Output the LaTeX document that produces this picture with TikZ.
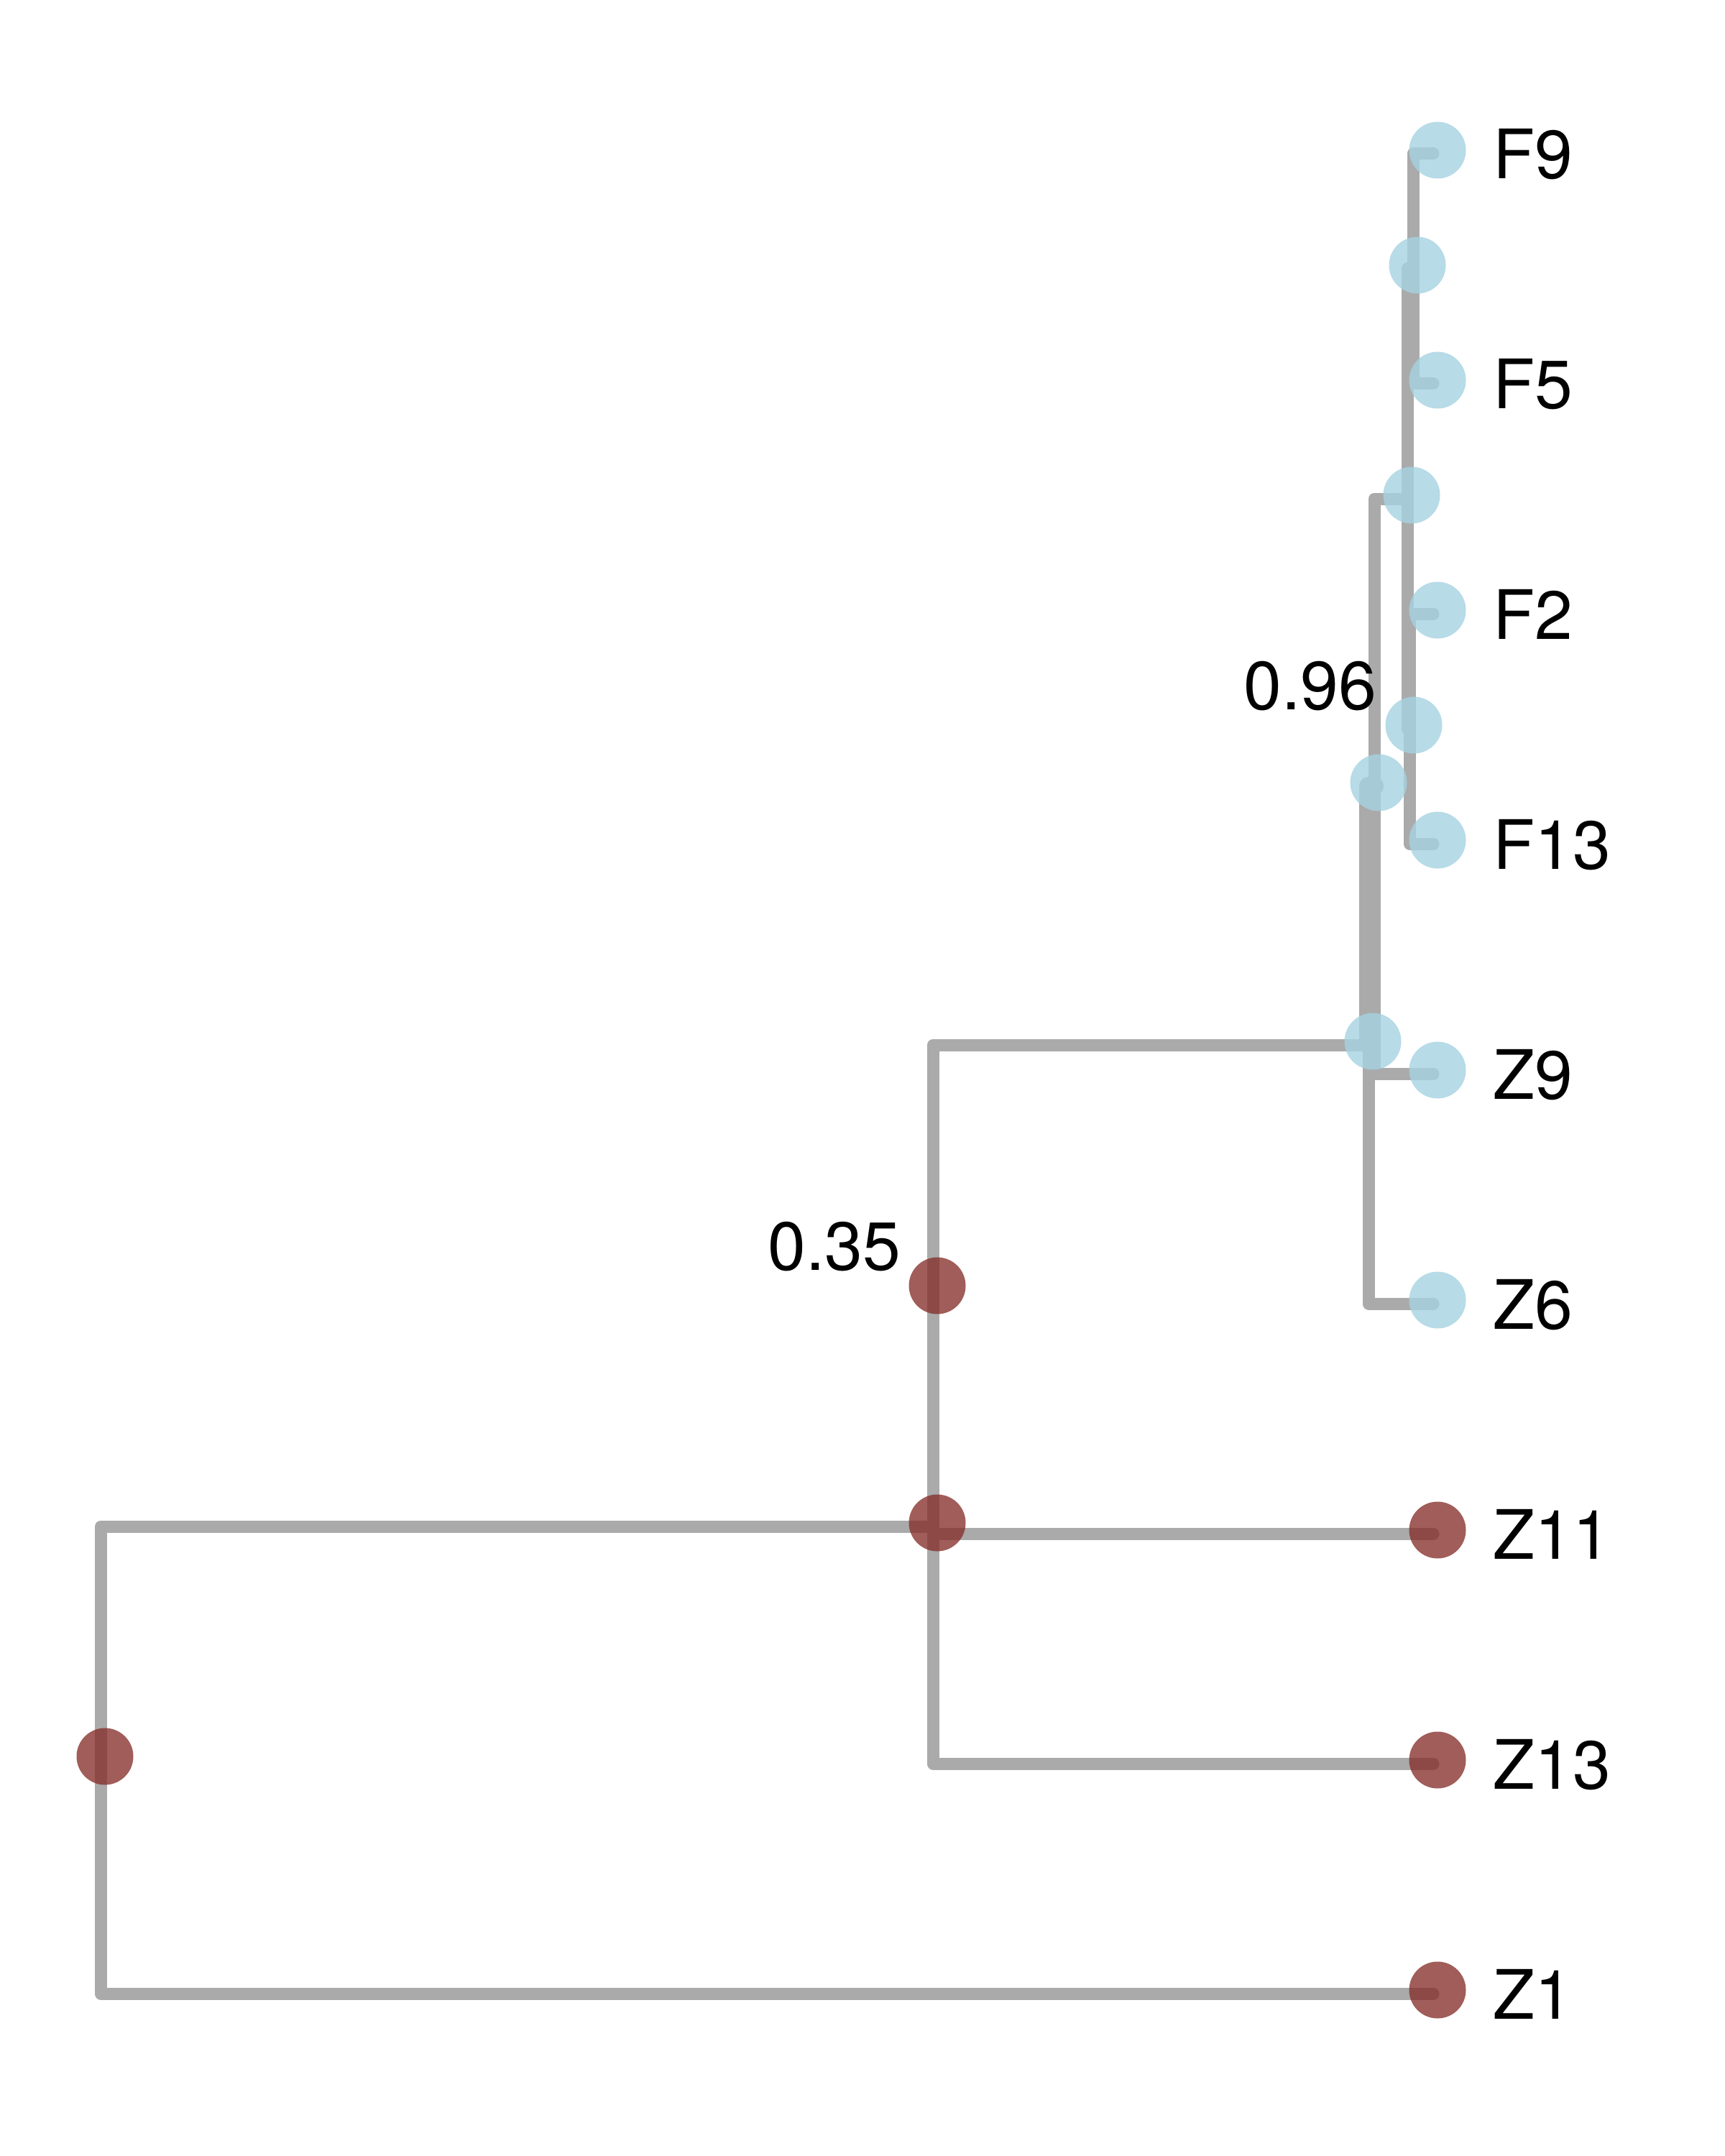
\documentclass[tikz,border=0pt]{standalone}
\usepackage{fontspec}
\setmainfont{TeX Gyre Heros}
\usepackage{xcolor}
\usepackage{tikz}
\definecolor{edgegrey}{HTML}{AAAAAA}
\definecolor{tipblue}{HTML}{A5D2E1}
\definecolor{tipred}{HTML}{832C27}
\tikzset{
  edge/.style       = {edgegrey, line width=1.7mm, line cap=round, line join=round},
  heavy edge/.style = {edge, line width=2.6mm},
  blue dot/.style   = {circle, fill=tipblue, fill opacity=0.8, inner sep=0pt,
                       minimum size=7.9mm, xshift=0.6mm, yshift=0.5mm},
  red dot/.style    = {blue dot, fill=tipred, fill opacity=0.77},
  tip label/.style  = {anchor=base west, inner sep=0pt,
                       font=\fontsize{27}{32}\selectfont},
  support/.style    = {tip label, anchor=base east},
}

\begin{document}
\begin{tikzpicture}
  \useasboundingbox (0,0) rectangle (24,-30);
    % tips
    \coordinate (F9)  at (19.94,-2.14);
    \coordinate (F5)  at (19.94,-5.34);
    \coordinate (F2)  at (19.94,-8.54);
    \coordinate (F13) at (19.94,-11.74);
    \coordinate (Z9)  at (19.94,-14.94);
    \coordinate (Z6)  at (19.94,-18.14);
    \coordinate (Z11) at (19.94,-21.34);
    \coordinate (Z13) at (19.94,-24.54);
    \coordinate (Z1)  at (19.94,-27.74);
    % inner nodes
    \coordinate (fa)   at (19.66,-3.74);
    \coordinate (fb)   at (19.61,-10.14);
    \coordinate (fab)  at (19.58,-6.94);
    \coordinate (fz9)  at (19.12,-10.94);
    \coordinate (fz6)  at (19.04,-14.54);
    \coordinate (za)   at (12.98,-17.94);
    \coordinate (zb)   at (12.98,-21.24);
    \coordinate (root) at (1.40,-24.49);
    % branches
    \draw[edge] (fa) |- (F9);
    \draw[edge] (fa) |- (F5);
    \draw[edge] (fb) |- (F2);
    \draw[edge] (fb) |- (F13);
    \draw[edge] (fab) |- (fa);
    \draw[edge] (fab) |- (fb);
    \draw[edge] (fz9) |- (fab);
    \draw[edge] (fz9) |- (Z9);
    \draw[heavy edge] (fz6) |- (fz9);
    \draw[edge] (fz6) |- (Z6);
    \draw[edge] (za) |- (fz6);
    \draw[edge] (za) |- (Z11);
    \draw[edge] (zb) |- (za);
    \draw[edge] (zb) |- (Z13);
    \draw[edge] (root) |- (zb);
    \draw[edge] (root) |- (Z1);
    % dots
    \node[blue dot] (F9 dot)  at (F9) {};
    \node[blue dot] (F5 dot)  at (F5) {};
    \node[blue dot] (F2 dot)  at (F2) {};
    \node[blue dot] (F13 dot) at (F13) {};
    \node[blue dot] (Z9 dot)  at (Z9) {};
    \node[blue dot] (Z6 dot)  at (Z6) {};
    \node[red dot]  (Z11 dot) at (Z11) {};
    \node[red dot]  (Z13 dot) at (Z13) {};
    \node[red dot]  (Z1 dot)  at (Z1) {};
    \node[blue dot] (fa dot)  at (fa) {};
    \node[blue dot] (fb dot)  at (fb) {};
    \node[blue dot] (fab dot) at (fab) {};
    \node[blue dot] (fz9 dot) at (fz9) {};
    \node[blue dot] (fz6 dot) at (fz6) {};
    \node[red dot]  (za dot)  at (za) {};
    \node[red dot]  (zb dot)  at (zb) {};
    \node[red dot]  (root dot) at (root) {};
    % labels
    \node[tip label] (F9 lab)  at ([shift={(0.83,-0.35)}]F9) {F9};
    \node[tip label] (F5 lab)  at ([shift={(0.83,-0.35)}]F5) {F5};
    \node[tip label] (F2 lab)  at ([shift={(0.83,-0.35)}]F2) {F2};
    \node[tip label] (F13 lab) at ([shift={(0.83,-0.35)}]F13) {F13};
    \node[tip label] (Z9 lab)  at ([shift={(0.83,-0.35)}]Z9) {Z9};
    \node[tip label] (Z6 lab)  at ([shift={(0.83,-0.35)}]Z6) {Z6};
    \node[tip label] (Z11 lab) at ([shift={(0.83,-0.35)}]Z11) {Z11};
    \node[tip label] (Z13 lab) at ([shift={(0.83,-0.35)}]Z13) {Z13};
    \node[tip label] (Z1 lab)  at ([shift={(0.83,-0.35)}]Z1) {Z1};
    \node[support] (fz9 val) at ([shift={(0.04,1.07)}]fz9) {0.96};
    \node[support] (za val)  at ([shift={(-0.44,0.27)}]za) {0.35};
\end{tikzpicture}
\end{document}
